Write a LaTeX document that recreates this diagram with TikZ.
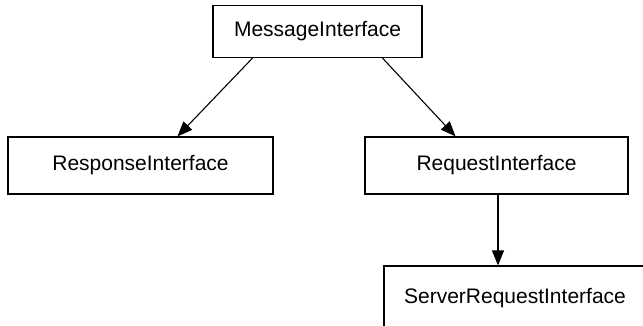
\documentclass[tikz,border=0pt]{standalone}
\usepackage{fontspec}
\setmainfont{Liberation Sans}
\usetikzlibrary{arrows.meta}
\begin{document}
\begin{tikzpicture}[x=1pt,y=-1pt,
  box/.style={draw=black,line width=1.2pt,inner sep=0pt,font=\fontsize{21}{25}\selectfont},
  conn/.style={draw=black,line width=1.1pt,-{Triangle[length=15pt,width=12pt]}}]
\useasboundingbox (0,0) rectangle (643,326);
\clip (0,0) rectangle (643,326);
\node[box,minimum width=209pt,minimum height=52pt] (m) at (317.5,31.5) {MessageInterface};
\node[box,minimum width=265pt,minimum height=57pt] (r) at (140.5,165.5) {ResponseInterface};
\node[box,minimum width=263pt,minimum height=57pt] (q) at (496.5,165.5) {RequestInterface};
\node[box,minimum width=262pt,minimum height=64pt] (s) at (515,298) {ServerRequestInterface};
\draw[conn] ([xshift=-65pt]m.south) -- ([xshift=37pt]r.north);
\draw[conn] ([xshift=65pt]m.south) -- ([xshift=-41pt]q.north);
\draw[conn] ([xshift=1.5pt]q.south) -- ([xshift=-17pt]s.north);
\end{tikzpicture}
\end{document}
